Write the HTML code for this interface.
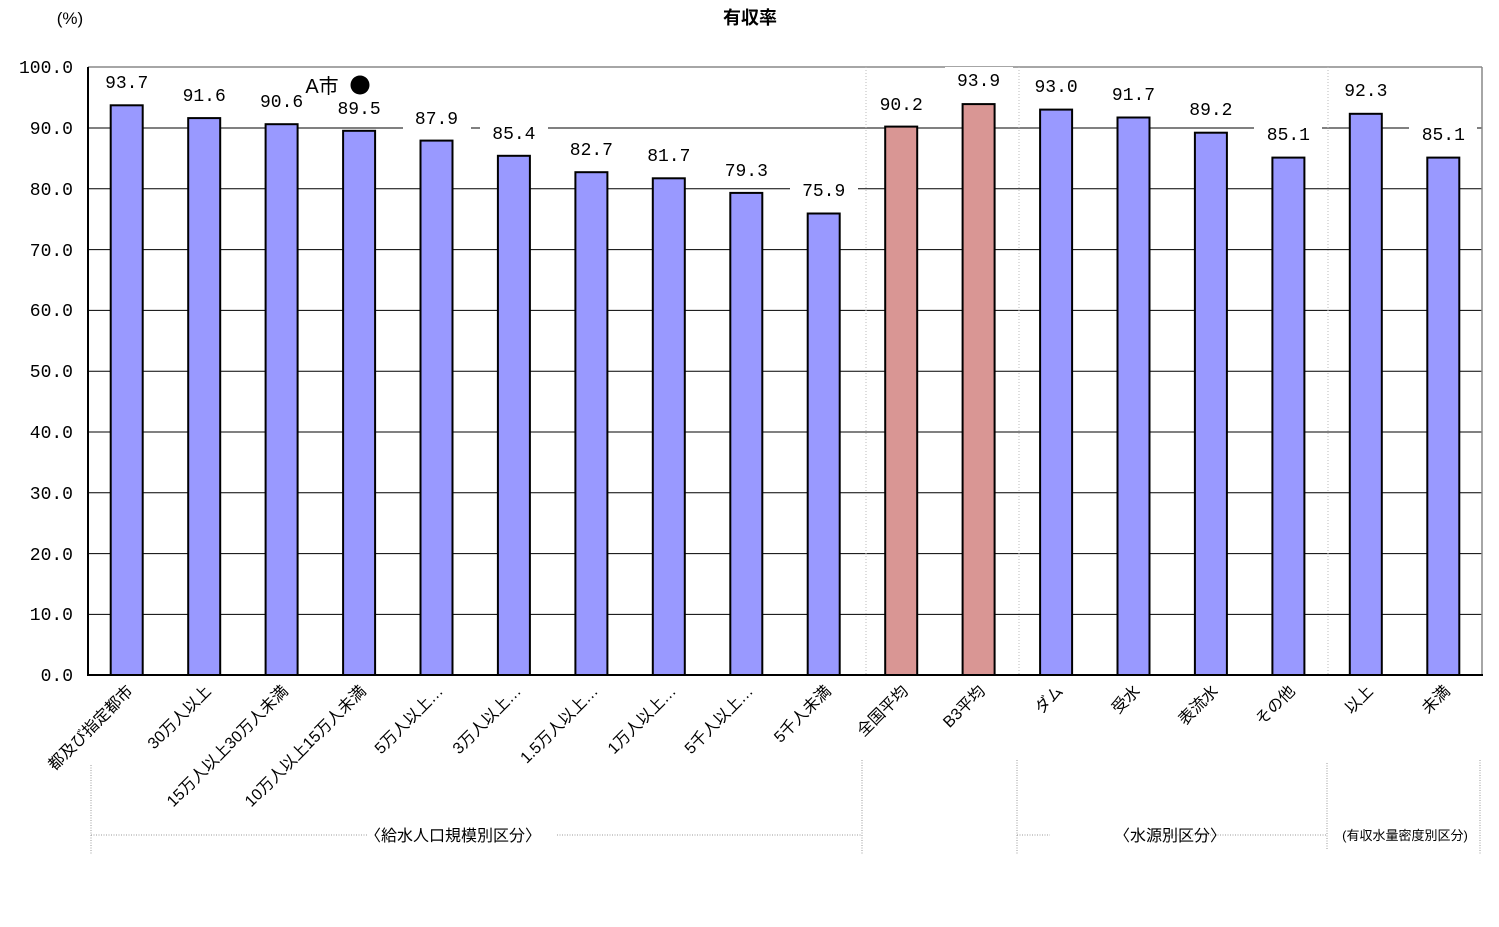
<!DOCTYPE html>
<html><head><meta charset="utf-8"><style>
html,body{margin:0;padding:0;background:#fff;}
svg{display:block;font-family:"Liberation Sans","Noto Sans CJK JP",sans-serif;}
.v{font-family:"Liberation Mono","Noto Sans CJK JP",monospace;font-size:18px;}
.c{font-size:16px;}
</style></head><body>
<svg width="1499" height="927" viewBox="0 0 1499 927" xmlns="http://www.w3.org/2000/svg">
<text x="750" y="24" text-anchor="middle" font-size="18" font-weight="bold">有収率</text>
<text x="70" y="24" text-anchor="middle" font-size="17">(%)</text>
<g stroke="#000" stroke-width="1">
<line x1="88" y1="128" x2="1482" y2="128"/>
<line x1="88" y1="188.8" x2="1482" y2="188.8"/>
<line x1="88" y1="249.6" x2="1482" y2="249.6"/>
<line x1="88" y1="310.4" x2="1482" y2="310.4"/>
<line x1="88" y1="371.2" x2="1482" y2="371.2"/>
<line x1="88" y1="432" x2="1482" y2="432"/>
<line x1="88" y1="492.8" x2="1482" y2="492.8"/>
<line x1="88" y1="553.6" x2="1482" y2="553.6"/>
<line x1="88" y1="614.4" x2="1482" y2="614.4"/>
</g>
<line x1="88" y1="67" x2="1482" y2="67" stroke="#888" stroke-width="1.5"/>
<line x1="1482" y1="67" x2="1482" y2="675" stroke="#888" stroke-width="1.5"/>
<g stroke="#bbb" stroke-dasharray="1,2">
<line x1="866" y1="67" x2="866" y2="675"/>
<line x1="1019" y1="67" x2="1019" y2="675"/>
<line x1="1328" y1="67" x2="1328" y2="675"/>
</g>
<g font-family="Liberation Mono,monospace" font-size="18" text-anchor="end">
<text x="73" y="73">100.0</text><text x="73" y="134">90.0</text><text x="73" y="195">80.0</text>
<text x="73" y="256">70.0</text><text x="73" y="316">60.0</text><text x="73" y="377">50.0</text>
<text x="73" y="438">40.0</text><text x="73" y="499">30.0</text><text x="73" y="560">20.0</text>
<text x="73" y="620">10.0</text><text x="73" y="681">0.0</text>
</g>
<g stroke="#000" stroke-width="2" fill="#9999ff">
<rect x="110.7" y="105.3" width="32" height="569.7"/>
<rect x="188.2" y="118.1" width="32" height="556.9"/>
<rect x="265.6" y="124.2" width="32" height="550.8"/>
<rect x="343.1" y="130.8" width="32" height="544.2"/>
<rect x="420.5" y="140.6" width="32" height="534.4"/>
<rect x="497.9" y="155.8" width="32" height="519.2"/>
<rect x="575.4" y="172.2" width="32" height="502.8"/>
<rect x="652.8" y="178.3" width="32" height="496.7"/>
<rect x="730.3" y="192.9" width="32" height="482.1"/>
<rect x="807.7" y="213.5" width="32" height="461.5"/>
<rect x="885.2" y="126.6" width="32" height="548.4" fill="#d99694"/>
<rect x="962.6" y="104.1" width="32" height="570.9" fill="#d99694"/>
<rect x="1040.1" y="109.6" width="32" height="565.4"/>
<rect x="1117.5" y="117.5" width="32" height="557.5"/>
<rect x="1194.9" y="132.7" width="32" height="542.3"/>
<rect x="1272.4" y="157.6" width="32" height="517.4"/>
<rect x="1349.8" y="113.8" width="32" height="561.2"/>
<rect x="1427.3" y="157.6" width="32" height="517.4"/>
</g>
<g fill="#fff">
<rect x="93" y="70" width="68" height="24"/>
<rect x="170" y="83" width="68" height="24"/>
<rect x="248" y="89" width="68" height="24"/>
<rect x="325" y="96" width="68" height="24"/>
<rect x="403" y="106" width="68" height="24"/>
<rect x="480" y="121" width="68" height="24"/>
<rect x="557" y="137" width="68" height="24"/>
<rect x="635" y="143" width="68" height="24"/>
<rect x="712" y="158" width="68" height="24"/>
<rect x="790" y="178" width="68" height="24"/>
<rect x="867" y="92" width="68" height="24"/>
<rect x="945" y="67" width="68" height="24"/>
<rect x="1022" y="74" width="68" height="24"/>
<rect x="1100" y="82" width="68" height="24"/>
<rect x="1177" y="97" width="68" height="24"/>
<rect x="1254" y="122" width="68" height="24"/>
<rect x="1332" y="78" width="68" height="24"/>
<rect x="1409" y="122" width="68" height="24"/>
</g>
<g class="v" text-anchor="middle">
<text x="126.7" y="88">93.7</text>
<text x="204.2" y="101">91.6</text>
<text x="281.6" y="107">90.6</text>
<text x="359.1" y="114">89.5</text>
<text x="436.5" y="124">87.9</text>
<text x="513.9" y="139">85.4</text>
<text x="591.4" y="155">82.7</text>
<text x="668.8" y="161">81.7</text>
<text x="746.3" y="176">79.3</text>
<text x="823.7" y="196">75.9</text>
<text x="901.2" y="110">90.2</text>
<text x="978.6" y="86">93.9</text>
<text x="1056.1" y="92">93.0</text>
<text x="1133.5" y="100">91.7</text>
<text x="1210.9" y="115">89.2</text>
<text x="1288.4" y="140">85.1</text>
<text x="1365.8" y="96">92.3</text>
<text x="1443.3" y="140">85.1</text>
</g>
<line x1="88" y1="67" x2="88" y2="676" stroke="#000" stroke-width="2"/>
<line x1="88" y1="675" x2="1483" y2="675" stroke="#000" stroke-width="2"/>
<text x="322" y="93" font-size="20" text-anchor="middle">A市</text>
<circle cx="360" cy="85" r="9.5" fill="#000"/>
<g class="c" text-anchor="end">
<text transform="translate(134,692) rotate(-45)">都及び指定都市</text>
<text transform="translate(212,692) rotate(-45)">30万人以上</text>
<text transform="translate(289,692) rotate(-45)">15万人以上30万人未満</text>
<text transform="translate(367,692) rotate(-45)">10万人以上15万人未満</text>
<text transform="translate(444,692) rotate(-45)">5万人以上…</text>
<text transform="translate(522,692) rotate(-45)">3万人以上…</text>
<text transform="translate(599,692) rotate(-45)">1.5万人以上…</text>
<text transform="translate(677,692) rotate(-45)">1万人以上…</text>
<text transform="translate(754,692) rotate(-45)">5千人以上…</text>
<text transform="translate(832,692) rotate(-45)">5千人未満</text>
<text transform="translate(909,692) rotate(-45)">全国平均</text>
<text transform="translate(986,692) rotate(-45)">B3平均</text>
<text transform="translate(1064,692) rotate(-45)">ダム</text>
<text transform="translate(1141,692) rotate(-45)">受水</text>
<text transform="translate(1219,692) rotate(-45)">表流水</text>
<text transform="translate(1296,692) rotate(-45)">その他</text>
<text transform="translate(1374,692) rotate(-45)">以上</text>
<text transform="translate(1451,692) rotate(-45)">未満</text>
</g>
<g stroke="#999" stroke-dasharray="1,1.5" stroke-width="1">
<line x1="91" y1="765" x2="91" y2="855"/>
<line x1="862" y1="760" x2="862" y2="855"/>
<line x1="1017" y1="760" x2="1017" y2="855"/>
<line x1="1327" y1="763" x2="1327" y2="850"/>
<line x1="1480" y1="760" x2="1480" y2="855"/>
<line x1="91" y1="835" x2="368" y2="835"/>
<line x1="557" y1="835" x2="862" y2="835"/>
<line x1="1017" y1="835" x2="1050" y2="835"/>
<line x1="1150" y1="835" x2="1327" y2="835"/>
</g>
<text x="453" y="841" class="c" text-anchor="middle">〈給水人口規模別区分〉</text>
<text x="1170" y="841" class="c" text-anchor="middle">〈水源別区分〉</text>
<text x="1405" y="840" font-size="13" text-anchor="middle">(有収水量密度別区分)</text>
</svg>
</body></html>
